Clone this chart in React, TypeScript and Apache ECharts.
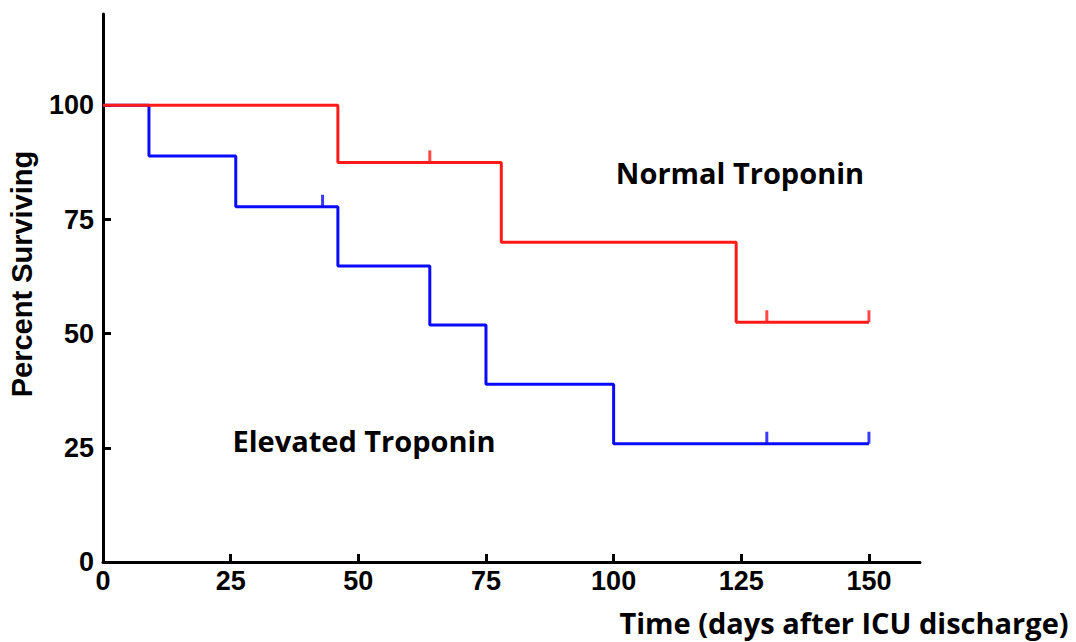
import React, { useEffect, useRef } from "react";
import * as echarts from "echarts";

const xTicks = [0, 25, 50, 75, 100, 125, 150];
const yTicks = [0, 25, 50, 75, 100];

// Kaplan-Meier steps: [time (days), percent surviving]
const normalSteps: [number, number][] = [
  [0, 100],
  [46, 87.5],
  [78, 70],
  [124, 52.5],
  [150, 52.5],
];
const elevatedSteps: [number, number][] = [
  [0, 100],
  [9, 88.9],
  [26, 77.8],
  [46, 64.8],
  [64, 51.9],
  [75, 38.9],
  [100, 25.9],
  [150, 25.9],
];
const normalCensored: [number, number][] = [
  [64, 87.5],
  [130, 52.5],
  [150, 52.5],
];
const elevatedCensored: [number, number][] = [
  [43, 77.8],
  [130, 25.9],
  [150, 25.9],
];

const RED = "#ff1a1a";
const BLUE = "#0a0aff";

export default function App() {
  const ref = useRef<HTMLDivElement>(null);
  useEffect(() => {
    if (!ref.current) return;
    const chart = echarts.init(ref.current, null, { renderer: "svg" });
    const axisCommon = {
      type: "value" as const,
      axisLine: { show: true, onZero: false, lineStyle: { color: "#000", width: 3 } },
      axisTick: { show: true, inside: true, length: 8, lineStyle: { color: "#000", width: 3 } },
      splitLine: { show: false },
    };
    const labelStyle = {
      color: "#000",
      fontFamily: "Liberation Sans",
      fontWeight: "bold" as const,
      fontSize: 27,
    };
    chart.setOption({
      animation: false,
      backgroundColor: "#fff",
      grid: { left: 103, right: 156, top: 14, bottom: 80, containLabel: false },
      xAxis: {
        ...axisCommon,
        min: 0,
        max: 160,
        interval: 25,
        axisTick: { ...axisCommon.axisTick, customValues: xTicks },
        axisLabel: { customValues: xTicks, margin: 5, ...labelStyle },
      },
      yAxis: {
        ...axisCommon,
        min: 0,
        max: 120,
        interval: 25,
        axisTick: { ...axisCommon.axisTick, customValues: yTicks },
        axisLabel: { customValues: yTicks, margin: 9, ...labelStyle },
      },
      series: [
        {
          type: "line",
          name: "Elevated Troponin",
          data: elevatedSteps,
          step: "end",
          showSymbol: false,
          lineStyle: { color: BLUE, width: 3 },
          z: 3,
        },
        {
          type: "line",
          name: "Normal Troponin",
          data: normalSteps,
          step: "end",
          showSymbol: false,
          lineStyle: { color: RED, width: 3 },
          z: 4,
        },
        {
          type: "scatter",
          data: normalCensored,
          symbol: "rect",
          symbolSize: [3, 12],
          symbolOffset: [0, -6],
          itemStyle: { color: RED },
          z: 5,
        },
        {
          type: "scatter",
          data: elevatedCensored,
          symbol: "rect",
          symbolSize: [3, 12],
          symbolOffset: [0, -6],
          itemStyle: { color: BLUE },
          z: 5,
        },
      ],
      graphic: [
        {
          type: "text",
          x: 22,
          y: 274,
          rotation: Math.PI / 2,
          style: {
            text: "Percent Surviving",
            fill: "#000",
            font: "bold 29px 'Liberation Sans'",
            align: "center",
            verticalAlign: "middle",
          },
        },
        {
          type: "text",
          x: 740,
          y: 172,
          style: {
            text: "Normal Troponin",
            fill: "#000",
            font: "bold 29px 'Open Sans'",
            align: "center",
            verticalAlign: "middle",
          },
        },
        {
          type: "text",
          x: 364,
          y: 440,
          style: {
            text: "Elevated Troponin",
            fill: "#000",
            font: "bold 29px 'Open Sans'",
            align: "center",
            verticalAlign: "middle",
          },
        },
        {
          type: "text",
          x: 844,
          y: 622,
          style: {
            text: "Time (days after ICU discharge)",
            fill: "#000",
            font: "bold 29px 'Open Sans'",
            align: "center",
            verticalAlign: "middle",
          },
        },
      ],
    });
    return () => chart.dispose();
  }, []);
  return (
    <div
      ref={ref}
      style={{ position: "fixed", left: 0, top: 0, width: 1076, height: 642 }}
    />
  );
}
